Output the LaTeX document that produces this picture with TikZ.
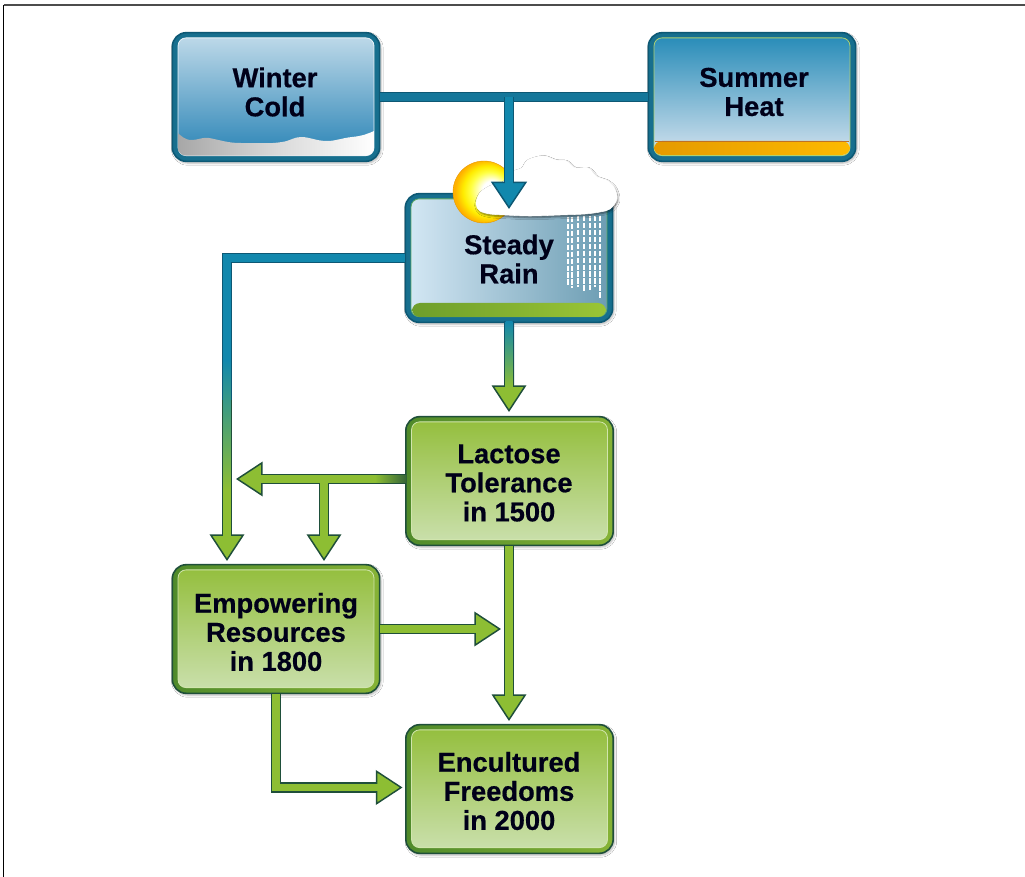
\documentclass[tikz,border=0pt]{standalone}
\usepackage{fontspec}
\setmainfont{Liberation Sans}[BoldFeatures={FakeBold=0.5}]
\usetikzlibrary{arrows.meta,calc,shadows.blur}
\definecolor{bluedark}{HTML}{0D5874}
\definecolor{bluering}{HTML}{176F8E}
\definecolor{bluemid}{HTML}{1288AD}
\definecolor{blueline}{HTML}{15779A}
\definecolor{greendark}{HTML}{1F4F3A}
\definecolor{greenring}{HTML}{4F8A2A}
\definecolor{greenringlt}{HTML}{86B336}
\definecolor{greenarrow}{HTML}{8DBE33}
\definecolor{greentop}{HTML}{95BF3F}
\definecolor{greenbot}{HTML}{C9DFAA}
\pgfdeclareradialshading{sunshade}{\pgfpoint{0.3cm}{0.05cm}}{%
  color(0cm)=(white); color(0.28cm)=(white); color(0.55cm)=(yellow!75!white);
  color(0.72cm)=(yellow!85!orange); color(0.9cm)=(orange!60!yellow); color(1.2cm)=(orange!70!yellow)}
\tikzset{
  x=0.75pt,y=-0.75pt,
  label text/.style={font=\fontsize{20.5pt}{21.8pt}\selectfont\bfseries,align=center,text=black!90!blue,inner sep=0pt},
  outerbox/.style={rounded corners=10.5pt,line width=1.2pt,minimum width=155.5pt,minimum height=96.5pt,inner sep=0pt,
    blur shadow={shadow blur steps=5,shadow xshift=1pt,shadow yshift=-1.3pt,shadow opacity=30,shadow blur radius=1.6pt}},
  bluebox/.style={outerbox,draw=bluedark,fill=bluering},
  greenbox/.style={outerbox,draw=greendark,left color=greenring,right color=greenringlt},
  headblue/.style={-{Triangle[length=20.5pt,width=27pt,line width=1.1pt,fill=bluemid]}},
  headgreen/.style={-{Triangle[length=20pt,width=26pt,line width=1.1pt,fill=greenarrow]}},
  shaft/.style={line width=7.6pt,line join=miter},
  coreG/.style={line width=5.3pt,color=greenarrow,line join=miter},
  coreB/.style={line width=5.3pt,color=bluemid,line join=miter},
  greenpanel/.style={top color=greentop,bottom color=greenbot,draw=white!60!greenarrow,line width=0.6pt},
  cloudshape/.style={fill=white,draw=white,blur shadow={shadow blur steps=5,shadow xshift=0.6pt,shadow yshift=-1.2pt,shadow opacity=55,shadow blur radius=1.6pt}},
}
\newcommand{\panel}[2]{%
  \path[rounded corners=6pt,#2]
    ($(#1.north west)+(6.5,6)$) rectangle ($(#1.south east)+(-6.5,-6.5)$);}
\begin{document}
\begin{tikzpicture}
\useasboundingbox (0,0) rectangle (1025,877);
\fill[white] (0,0) rectangle (1025,877);
% frame
\coordinate (fa) at (3.5,877);
\coordinate (fb) at (3.5,5);
\coordinate (fc) at (1025,5);
\draw[black,line width=1.3pt] (fa) -- (fb);
\draw[black!70,line width=1.2pt] (fb) -- (fc);

% ---------- box shells ----------
\node[bluebox] (winter) at (276,97) {};
\node[bluebox] (summer) at (752,97) {};
\node[bluebox] (rain) at (509,258) {};
\node[greenbox] (lactose) at (509.5,481) {};
\node[greenbox] (empower) at (276,629) {};
\node[greenbox] (freedom) at (509.5,789) {};

% ---------- connectors ----------
\coordinate (join) at (509,97);
\coordinate (raintop) at (509,209);
\draw[shaft,draw=bluedark] (winter.east) -- (summer.west);
\draw[coreB,color=blueline] (winter.east) -- (summer.west);

% rain -> empowering (blue fading to green)
\coordinate (railcorner) at (227,258);
\coordinate (emptip) at (227,561);
\draw[shaft,draw=greendark,headgreen] (rain.west) -- (railcorner) -- (emptip);
\draw[shaft,draw=bluedark] (rain.west) -- (railcorner) -- (227,400);
\draw[coreG,shorten >=18pt] (227,400) -- (emptip);
\draw[coreB] (rain.west) -- (railcorner) -- (227,400);
\shade[top color=bluemid,bottom color=greenarrow] (223.5,360) rectangle (230.5,490);

% rain -> lactose
\coordinate (lactop) at (509,412);
\draw[shaft,draw=greendark,headgreen] (rain.south) -- (lactop);
\shade[top color=bluedark,bottom color=greendark] (504,322) rectangle (514,385);
\shade[top color=bluemid,bottom color=greenarrow] (505.5,322) rectangle (512.5,388);

% lactose -> left, branch down
\coordinate (railtip) at (236,479);
\coordinate (branch) at (324,479);
\coordinate (brtip) at (324,561);
\path (lactose.west |- railtip) coordinate (lacw);
\draw[shaft,draw=greendark,headgreen] (branch) -- (brtip);
\draw[shaft,draw=greendark,headgreen] (lacw) -- (railtip);
\draw[coreG,shorten >=18pt] (lacw) -- (railtip);
\draw[coreG,shorten >=18pt] (branch) -- (brtip);
\shade[left color=greenarrow,right color=greendark!80!greenarrow] (375,475.5) rectangle (406,482.5);

% lactose -> freedom
\coordinate (fretop) at (509,721);
\coordinate (lacs) at (fretop |- lactose.south);
\coordinate (emprighttip) at (501,629);
\draw[shaft,draw=greendark,headgreen] (lacs) -- (fretop);
\draw[coreG,shorten >=18pt] (lacs) -- (fretop);
% empowering -> right
\draw[shaft,draw=greendark,headgreen] (empower.east) -- (emprighttip);
\draw[coreG,shorten >=18pt] (empower.east) -- (emprighttip);
% empowering -> freedom
\coordinate (elbow) at (276,787.5);
\coordinate (frleft) at (402.5,787.5);
\coordinate (empb) at (elbow |- empower.south);
\draw[shaft,draw=greendark,headgreen] (empb) -- (elbow) -- (frleft);
\draw[coreG,shorten >=18pt] (empb) -- (elbow) -- (frleft);

% ---------- box interiors ----------
% winter
\definecolor{wtop}{HTML}{BCD8E8}
\definecolor{wbot}{HTML}{2A84B6}
\panel{winter}{top color=wtop,bottom color=wbot,draw=white!70!wtop,line width=0.6pt}
\begin{scope}
\clip[rounded corners=6pt] ($(winter.north west)+(6.5,6)$) rectangle ($(winter.south east)+(-6.5,-6.5)$);
\shade[left color=black!35,right color=white,middle color=white!85!black]
  (175,131) .. controls (182,136) and (184,140) .. (192,140)
  .. controls (198,140) and (202,137) .. (209,138)
  .. controls (220,140) and (228,143) .. (240,143)
  .. controls (258,143) and (270,144) .. (282,142)
  .. controls (290,141) and (294,137) .. (301,137)
  .. controls (310,137) and (316,141) .. (327,141)
  .. controls (336,141) and (342,138) .. (352,137)
  .. controls (362,136) and (368,134) .. (376,130)
  -- (376,158) -- (175,158) -- cycle;
\end{scope}
% summer
\definecolor{stop}{HTML}{2A8DB9}
\definecolor{sbot}{HTML}{D3E2EE}
\panel{summer}{top color=stop,bottom color=sbot,draw=greenarrow!70!white,line width=0.6pt}
\definecolor{oa}{HTML}{E59A00}
\definecolor{ob}{HTML}{FDBA00}
\path[rounded corners=6pt,left color=oa,right color=ob]
  (654,141) -- (850,141) -- (850,155) -- (654,155) -- cycle;
\draw[orange!70!black!85!white,line width=0.6pt] (655,141) -- (849,141);
% rain
\definecolor{rl}{HTML}{D2E6F3}
\definecolor{rr}{HTML}{6C9DB3}
\panel{rain}{left color=rl,right color=rr,draw=greenarrow!60!bluemid,line width=0.6pt}
\definecolor{ga}{HTML}{6E9E2B}
\definecolor{gb}{HTML}{9AC536}
\path[rounded corners=6pt,left color=ga,right color=gb]
  (412,303) -- (606,303) -- (606,317) -- (412,317) -- cycle;
% rain streaks
\foreach \x/\a/\b in {568/217/286,572/217/288,578/216/287,584/216/291,590/216/290,595/216/287,600/216/298}
  \draw[white,line width=0.8pt,dash pattern=on 4pt off 1.2pt] (\x,\a) -- (\x,\b);
% sun
\path[shading=sunshade,draw=orange!70!yellow!90!black,line width=0.3pt] (484,192) circle (31);
% cloud
\path[cloudshape]
  plot[smooth cycle,tension=0.55] coordinates {
  (476,204) (480,193) (490,186) (503,182) (512,172) (522,168) (528,160) (543,156)
  (555,160) (566,161) (575,168) (588,168) (597,177) (606,180) (614,187) (617,199)
  (610,209) (600,212) (585,214) (560,215) (530,216) (505,215) (490,214) (480,211)};

% winter/summer junction down to the rain box, over the cloud
\draw[shaft,draw=bluedark,headblue] (join) -- (raintop);
\draw[coreB,shorten >=18pt] (join) -- (raintop);

% greens
\panel{lactose}{greenpanel}
\panel{empower}{greenpanel}
\panel{freedom}{greenpanel}

% ---------- labels ----------
\node[label text] (t1) at (275,92) {Winter\\Cold};
\node[label text] (t2) at (754,92) {Summer\\Heat};
\node[label text] (t3) at (509,259) {Steady\\Rain};
\node[label text] (t4) at (509,483) {Lactose\\Tolerance\\in 1500};
\node[label text] (t5) at (276,632) {Empowering\\Resources\\in 1800};
\node[label text] (t6) at (509,791) {Encultured\\Freedoms\\in 2000};
\end{tikzpicture}
\end{document}
